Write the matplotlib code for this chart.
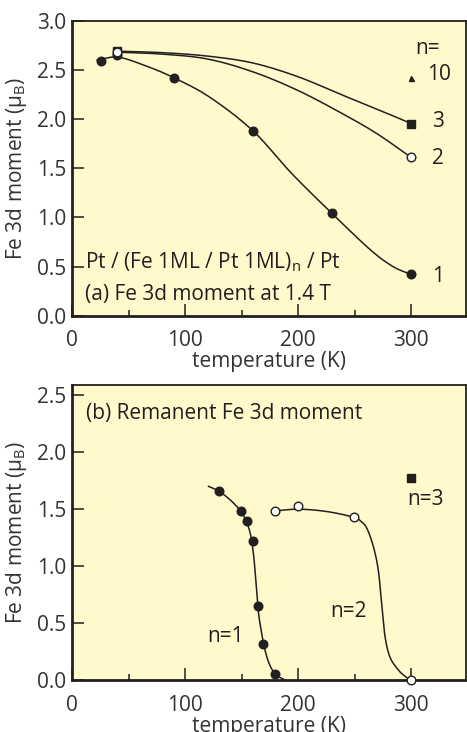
import numpy as np
import matplotlib
matplotlib.use("Agg")
import matplotlib.pyplot as plt

# ---------------- data ----------------
# panel (a): Fe 3d moment at 1.4 T
a_n1_T = [25, 40, 90, 160, 230, 300]
a_n1_M = [2.59, 2.65, 2.42, 1.88, 1.04, 0.42]
a_n2_T = [40, 300]
a_n2_M = [2.68, 1.61]
a_n3_T = [40, 300]
a_n3_M = [2.69, 1.95]
a_n10_T = [300]
a_n10_M = [2.415]

# guide curves of panel (a)
a_n1_curve_T = [22, 40, 63, 90, 122, 160, 194, 230, 264, 284, 300]
a_n1_curve_M = [2.60, 2.63, 2.55, 2.42, 2.22, 1.88, 1.45, 1.04, 0.67, 0.50, 0.42]
a_n2_curve_T = [40, 80, 120, 160, 200, 240, 270, 300]
a_n2_curve_M = [2.68, 2.66, 2.61, 2.48, 2.29, 2.05, 1.85, 1.61]
a_n3_curve_T = [40, 80, 120, 160, 200, 240, 270, 300]
a_n3_curve_M = [2.69, 2.675, 2.64, 2.57, 2.43, 2.24, 2.10, 1.955]

# panel (b): remanent Fe 3d moment
b_n1_T = [129.5, 149.3, 154.6, 159.6, 164.3, 169.3, 179.9]
b_n1_M = [1.66, 1.48, 1.40, 1.22, 0.65, 0.32, 0.055]
b_n2_T = [179.5, 199.6, 249.5, 300]
b_n2_M = [1.48, 1.525, 1.43, 0.0]
b_n3_T = [300]
b_n3_M = [1.77]

b_n1_curve_T = [120.6, 129.5, 140, 149.3, 154.6, 158, 160.5, 162, 163.5, 165, 167, 169.3, 173, 177, 181, 188.5]
b_n1_curve_M = [1.70, 1.66, 1.58, 1.48, 1.38, 1.27, 1.10, 0.94, 0.75, 0.58, 0.45, 0.32, 0.18, 0.09, 0.04, 0.0]
b_n2_curve_T = [179.5, 200, 225, 249, 256, 261, 266.7, 271, 274, 277, 281.4, 288.8, 295, 300]
b_n2_curve_M = [1.485, 1.50, 1.48, 1.43, 1.39, 1.33, 1.17, 0.965, 0.67, 0.38, 0.20, 0.088, 0.03, 0.0]

xticks = [0, 100, 200, 300]
a_yticks = [0.0, 0.5, 1.0, 1.5, 2.0, 2.5, 3.0]
b_yticks = [0.0, 0.5, 1.0, 1.5, 2.0, 2.5]

# ---------------- style ----------------
plt.rcParams['font.family'] = ['Open Sans', 'DejaVu Sans']
plt.rcParams['mathtext.fontset'] = 'custom'
plt.rcParams['mathtext.rm'] = 'Open Sans'
plt.rcParams['mathtext.it'] = 'Open Sans:italic'
FS = 15
TXT = '#231f20'
LBL = '#333333'
BG = '#fff9cb'


def smooth(xs, ys, n=20):
    """Catmull-Rom rendering of a sampled curve (drawing only)."""
    p = np.column_stack([xs, ys]).astype(float)
    p = np.vstack([2 * p[0] - p[1], p, 2 * p[-1] - p[-2]])
    out = []
    t = np.linspace(0, 1, n, endpoint=False)[:, None]
    for i in range(1, len(p) - 2):
        p0, p1, p2, p3 = p[i - 1], p[i], p[i + 1], p[i + 2]
        seg = 0.5 * ((2 * p1) + (-p0 + p2) * t + (2 * p0 - 5 * p1 + 4 * p2 - p3) * t ** 2
                     + (-p0 + 3 * p1 - 3 * p2 + p3) * t ** 3)
        out.append(seg)
    out.append(p[-2][None, :])
    out = np.vstack(out)
    return out[:, 0], out[:, 1]


def style_axes(ax, ylim, yticks):
    ax.set_facecolor(BG)
    ax.set_xlim(0, 349)
    ax.set_ylim(*ylim)
    ax.set_xticks(xticks)
    ax.set_xticks([50, 150, 250], minor=True)
    ax.set_yticks(yticks)
    ax.set_yticklabels([f"{v:.1f}" for v in yticks])
    ax.tick_params(axis='both', which='major', direction='in', length=8.8, width=1.1,
                   labelsize=FS, colors=TXT, labelcolor=LBL)
    ax.tick_params(axis='x', which='minor', direction='in', length=4.6, width=1.1, color=TXT)
    ax.tick_params(axis='x', which='major', pad=10.5)
    ax.tick_params(axis='y', which='major', pad=4.5)
    for s in ax.spines.values():
        s.set_linewidth(1.3)
        s.set_color(TXT)
    ax.spines['left'].set_linewidth(2.0)
    ax.spines['bottom'].set_linewidth(2.0)
    ax.set_xlabel('temperature (K)', fontsize=FS, color=LBL, labelpad=0)
    ax.set_ylabel('Fe 3d moment (μ$_{\\mathrm{B}}$)', fontsize=FS, color=LBL)
    ax.yaxis.set_label_coords(-0.110, 0.5)


fig = plt.figure(figsize=(4.67, 7.32), dpi=100)
ax1 = fig.add_axes([0.1549, 0.5687, 0.8437, 0.4030])
ax2 = fig.add_axes([0.1549, 0.0710, 0.8437, 0.4030])

LW = 1.1
mk = dict(markeredgecolor=TXT, linestyle='none', zorder=4)

# ---- panel (a)
style_axes(ax1, (0, 3.0), a_yticks)
for cx, cy in [(a_n1_curve_T, a_n1_curve_M), (a_n2_curve_T, a_n2_curve_M), (a_n3_curve_T, a_n3_curve_M)]:
    sx, sy = smooth(cx, cy)
    ax1.plot(sx, sy, color=TXT, lw=LW, zorder=3)
ax1.plot(a_n1_T, a_n1_M, marker='o', ms=6.2, markerfacecolor=TXT, **mk)
ax1.plot(a_n3_T, a_n3_M, marker='s', ms=5.5, markerfacecolor=TXT, **mk)
ax1.plot(a_n2_T, a_n2_M, marker='o', ms=6.2, markerfacecolor='white', markeredgewidth=1.0,
         markeredgecolor=TXT, linestyle='none', zorder=5)
ax1.plot(a_n10_T, a_n10_M, marker='^', ms=3.6, markerfacecolor=TXT, **mk)

ax1.text(304, 2.72, 'n=', fontsize=FS, color=TXT, va='center', ha='left')
ax1.text(314, 2.45, '10', fontsize=FS, color=TXT, va='center', ha='left')
ax1.text(319, 1.98, '3', fontsize=FS, color=TXT, va='center', ha='left')
ax1.text(319, 1.60, '2', fontsize=FS, color=TXT, va='center', ha='left')
ax1.text(319, 0.40, '1', fontsize=FS, color=TXT, va='center', ha='left')
ax1.text(11.3, 0.48, 'Pt / (Fe 1ML / Pt 1ML)$_{\\mathrm{n}}$ / Pt', fontsize=FS, color=TXT,
         va='baseline', ha='left')
ax1.text(11.3, 0.16, '(a) Fe 3d moment at 1.4 T', fontsize=FS, color=TXT, va='baseline', ha='left')

# ---- panel (b)
style_axes(ax2, (0, 2.59), b_yticks)
for cx, cy in [(b_n1_curve_T, b_n1_curve_M), (b_n2_curve_T, b_n2_curve_M)]:
    sx, sy = smooth(cx, cy)
    ax2.plot(sx, sy, color=TXT, lw=LW, zorder=3, clip_on=False)
ax2.plot(b_n1_T, b_n1_M, marker='o', ms=6.2, markerfacecolor=TXT, **mk)
ax2.plot(b_n2_T, b_n2_M, marker='o', ms=6.2, markerfacecolor='white', markeredgewidth=1.0,
         markeredgecolor=TXT, linestyle='none', zorder=5, clip_on=False)
ax2.plot(b_n3_T, b_n3_M, marker='s', ms=5.5, markerfacecolor=TXT, **mk)

ax2.text(11.8, 2.29, '(b) Remanent Fe 3d moment', fontsize=FS, color=TXT, va='baseline', ha='left')
ax2.text(119.6, 0.336, 'n=1', fontsize=FS, color=TXT, va='baseline', ha='left')
ax2.text(228.3, 0.556, 'n=2', fontsize=FS, color=TXT, va='baseline', ha='left')
ax2.text(296.4, 1.534, 'n=3', fontsize=FS, color=TXT, va='baseline', ha='left')

fig.savefig('out.png', dpi=100)
